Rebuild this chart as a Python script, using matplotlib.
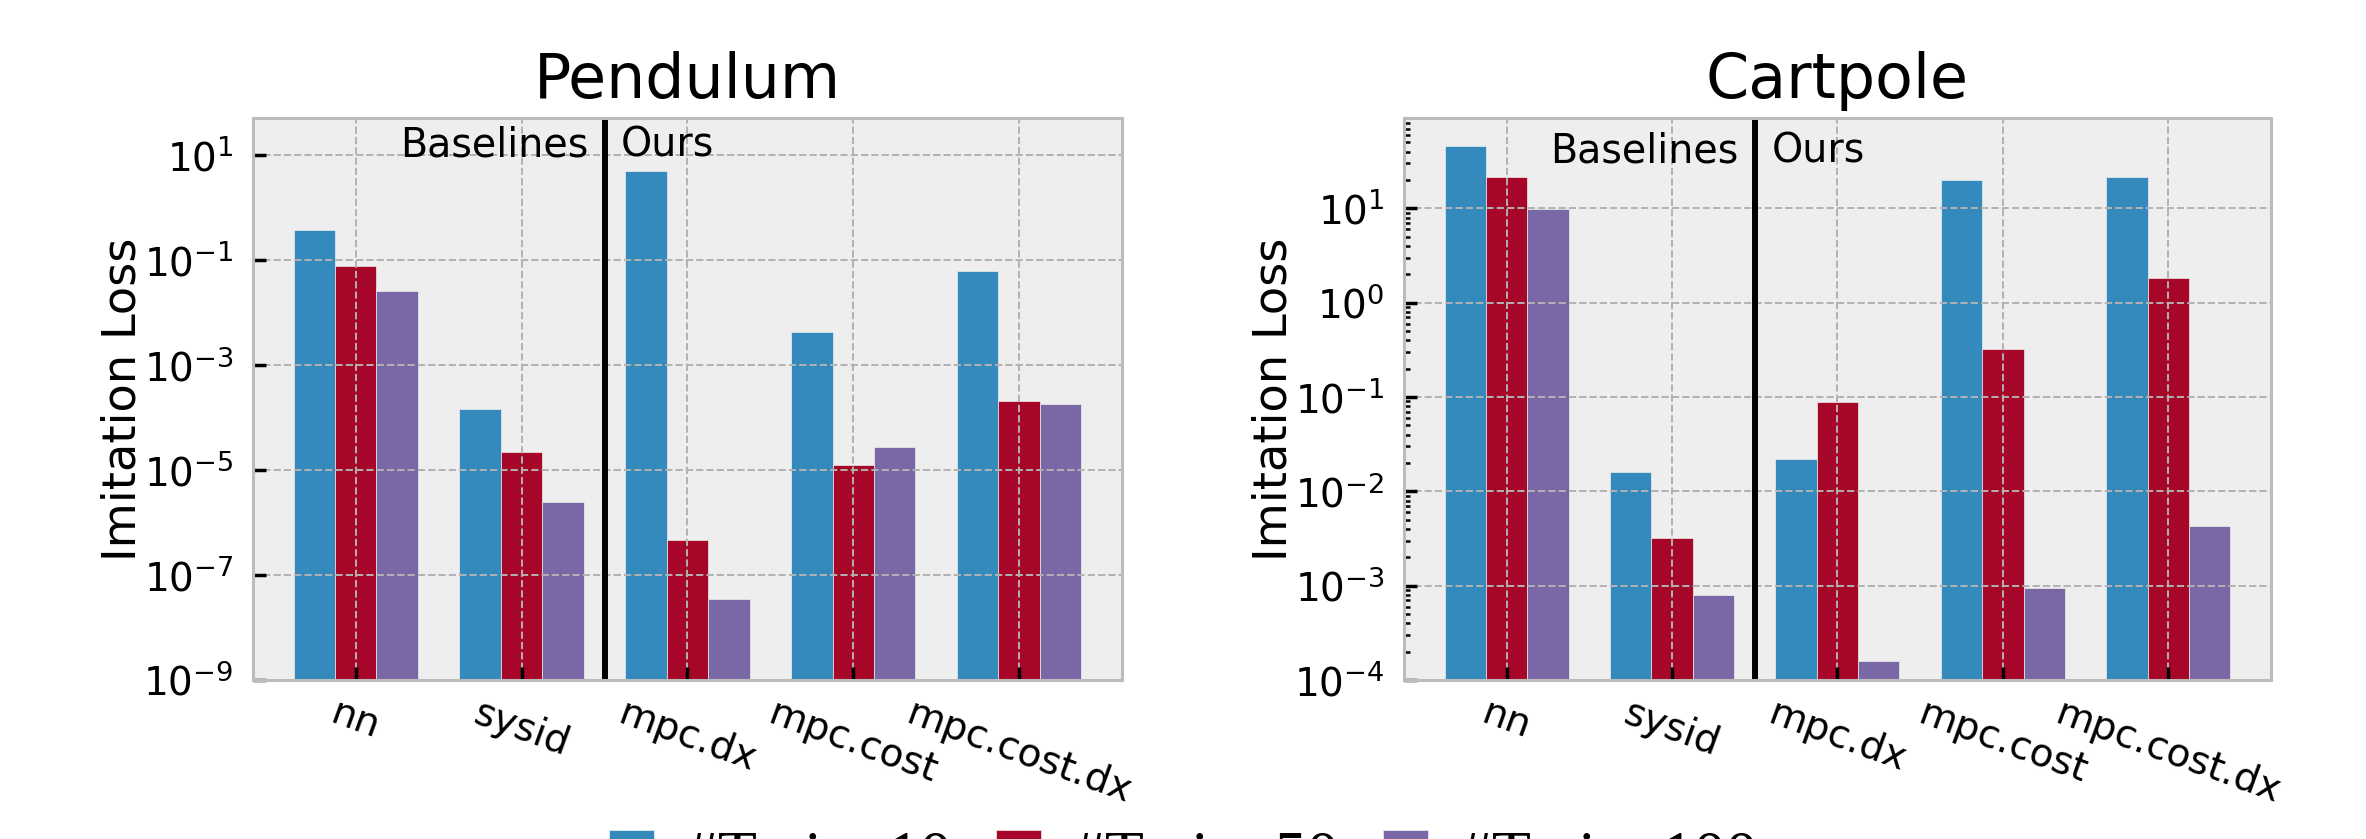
import numpy as np
import matplotlib
matplotlib.use('Agg')
import matplotlib.pyplot as plt
from matplotlib.ticker import NullLocator

methods = ['nn', 'sysid', 'mpc.dx', 'mpc.cost', 'mpc.cost.dx']
train_sizes = ['#Train: 10', '#Train: 50', '#Train: 100']
colors = ['#348ABD', '#A60628', '#7A68A6']

# imitation loss per method (same order as methods), one list per #train
pendulum_10 = [0.38, 1.5e-4, 5.0, 4.4e-3, 0.063]
pendulum_50 = [0.079, 2.2e-5, 4.7e-7, 1.25e-5, 2.1e-4]
pendulum_100 = [0.026, 2.5e-6, 3.5e-8, 2.8e-5, 1.8e-4]

cartpole_10 = [45.8, 0.0161, 0.0221, 20.0, 21.5]
cartpole_50 = [21.5, 3.2e-3, 0.0887, 0.322, 1.83]
cartpole_100 = [9.9, 7.9e-4, 1.6e-4, 9.5e-4, 4.3e-3]

plt.style.use('bmh')
plt.rcParams['axes.unicode_minus'] = False
plt.rcParams['mathtext.fontset'] = 'dejavusans'

fig = plt.figure(figsize=(23.66, 8.39), dpi=100)
ax1 = fig.add_axes([0.1069, 0.1895, 0.3673, 0.6694])
ax2 = fig.add_axes([0.5934, 0.1895, 0.3664, 0.6694])


def draw(ax, title, series, ylim, yticks, text_y, minor):
    x = np.arange(len(methods))
    width = 0.25
    bars = []
    for i, vals in enumerate(series):
        b = ax.bar(x + (i - 1) * width, vals, width, color=colors[i],
                   label=train_sizes[i], edgecolor='#eeeeee', linewidth=0.5)
        bars.append(b)
    ax.set_yscale('log')
    ax.set_ylim(ylim)
    ax.set_xlim(-0.62, 4.62)
    ax.set_yticks(yticks)
    if not minor:
        ax.yaxis.set_minor_locator(NullLocator())
    ax.set_xticks(x)
    ax.set_xticklabels(methods, rotation=-20, ha='center')
    ax.grid(True, which='major', color='#b2b2b2', linestyle='--', linewidth=1.4)
    for s in ax.spines.values():
        s.set_linewidth(2.2)
    ax.tick_params(axis='y', which='major', length=9.5, width=2.5,
                   labelsize=28, pad=14)
    ax.tick_params(axis='y', which='minor', length=4, width=1.8)
    ax.tick_params(axis='x', which='major', length=9.5, width=2.5,
                   labelsize=28, pad=10)
    ax.set_ylabel('Imitation Loss', fontsize=33.4)
    ax.yaxis.set_label_coords(-0.124, 0.5)
    ax.set_title(title, fontsize=44.6, pad=15)
    ax.axvline(1.5, color='k', linewidth=4.3)
    tr = ax.get_xaxis_transform()
    ax.text(1.4, text_y, 'Baselines', transform=tr, ha='right',
            va='baseline', fontsize=28.5)
    ax.text(1.6, text_y, 'Ours', transform=tr, ha='left',
            va='baseline', fontsize=28.5)
    return bars


bars = draw(ax1, 'Pendulum', [pendulum_10, pendulum_50, pendulum_100],
            (1e-9, 51), [1e1, 1e-1, 1e-3, 1e-5, 1e-7, 1e-9], 0.933, False)
draw(ax2, 'Cartpole', [cartpole_10, cartpole_50, cartpole_100],
     (1e-4, 90), [1e1, 1e0, 1e-1, 1e-2, 1e-3, 1e-4], 0.921, True)

# legend sits mostly below the canvas, as in the cropped original
fig.legend(handles=bars, labels=train_sizes, loc='center',
           bbox_to_anchor=(0.5, -0.024), ncol=3, frameon=False,
           prop={'family': 'Liberation Serif', 'size': 46},
           handlelength=0.7, handleheight=0.7, handletextpad=0.5,
           columnspacing=0.7)

fig.savefig('out.png', dpi=100)
